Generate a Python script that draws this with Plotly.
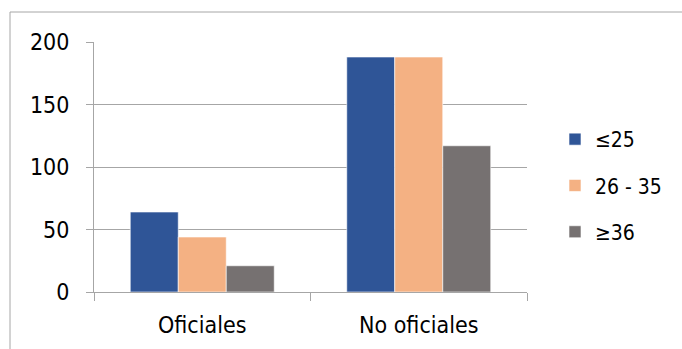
import plotly.graph_objects as go

categories = ["Oficiales", "No oficiales"]
series_names = ["≤25", "26 - 35", "≥36"]
values_le25 = [64, 188]
values_26_35 = [44, 188]
values_ge36 = [21, 117]
colors = ["#2F5597", "#F4B183", "#767171"]
y_ticks = [0, 50, 100, 150, 200]

W, H = 682, 349
L, R, T, B = 94, 155, 42, 57
pw, ph = W - L - R, H - T - B

fig = go.Figure()
for i, (name, vals) in enumerate(zip(series_names, [values_le25, values_26_35, values_ge36])):
    fig.add_trace(go.Bar(
        x=categories, y=vals, name=name, legendgroup=name,
        marker=dict(color=colors[i], line=dict(color="white", width=0.6)),
    ))

fam = "Liberation Sans Narrow, DejaVu Sans Condensed, sans-serif"
axis_font = dict(family=fam, size=23, color="#000000")
legend_font = dict(family=fam, size=21, color="#000000")

fig.update_layout(
    width=W, height=H,
    margin=dict(l=L, r=R, t=T, b=B, pad=0),
    paper_bgcolor="white", plot_bgcolor="white",
    barmode="group", bargap=0.335, bargroupgap=0,
    font=axis_font,
    showlegend=True,
    legend=dict(x=(555 - L) / pw, y=(292 - 119) / ph, xanchor="left", yanchor="top",
                font=legend_font, tracegroupgap=16, traceorder="grouped",
                bgcolor="rgba(0,0,0,0)"),
    xaxis=dict(type="category", tickson="boundaries", ticks="outside", ticklen=8,
               tickcolor="#A6A6A6", tickwidth=1, showline=True, linecolor="#A6A6A6",
               linewidth=1, showgrid=False, tickfont=axis_font, range=[-0.5, 1.5],
               ticklabelstandoff=12),
    yaxis=dict(range=[0, 200], tickvals=y_ticks, ticks="outside", ticklen=7,
               tickcolor="#A6A6A6", showline=True, linecolor="#A6A6A6", linewidth=1,
               showgrid=True, gridcolor="#A6A6A6", gridwidth=1, zeroline=False,
               tickfont=axis_font, ticklabelstandoff=12),
)

# outer chart frame (top and left edges visible)
x0 = (10 - L) / pw
y0 = (292 - 12) / ph
fig.add_shape(type="line", xref="paper", yref="paper", x0=x0, y0=y0, x1=(W + 5 - L) / pw, y1=y0,
              line=dict(color="#A6A6A6", width=1))
fig.add_shape(type="line", xref="paper", yref="paper", x0=x0, y0=y0, x1=x0, y1=(292 - H - 5) / ph,
              line=dict(color="#A6A6A6", width=1))

fig.write_html("out.html")
